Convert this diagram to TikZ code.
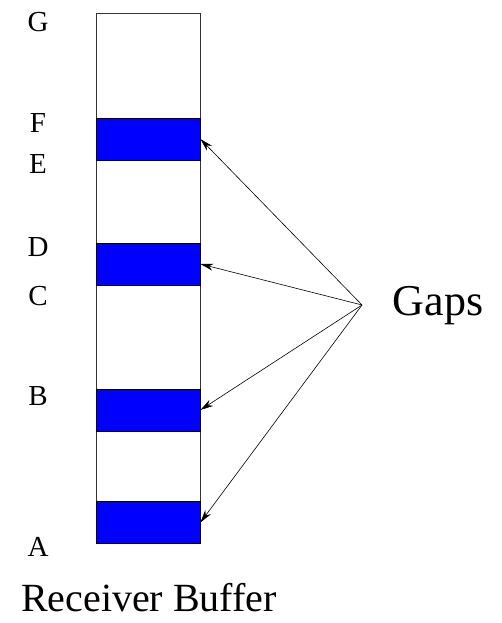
\documentclass[tikz,border=0pt]{standalone}
\usepackage{fontspec}
\setmainfont{Liberation Serif}
\usetikzlibrary{arrows.meta}

\tikzset{
    band/.style={draw=black, fill=blue, minimum width=104pt, minimum height=42pt,
                 inner sep=0pt, line width=0.8pt},
    letter/.style={font=\fontsize{29}{29}\selectfont},
    gaparrow/.style={line width=0.6pt, -{Stealth[length=13pt, width=7pt]}}
}

\begin{document}
\begin{tikzpicture}[x=1pt, y=-1pt]
    \useasboundingbox (0,0) rectangle (501,623);

    % Draw the buffer column
    \node[draw=black!80, line width=1pt, minimum width=104pt, minimum height=529pt,
          inner sep=0pt] (buffer) at (148,278.5) {};

    % Blue bands for the gaps
    \node[band] (gapEF) at (148,139) {};
    \node[band] (gapCD) at (148,264) {};
    \node[band] (gapB)  at (148,410) {};
    \node[band] (gapA)  at (148,522.5) {};

    % Sequence labels on the left
    \node[letter] (labG) at (38,22) {G};
    \node[letter] (labF) at (38,123) {F};
    \node[letter] (labE) at (38,164) {E};
    \node[letter] (labD) at (38,247) {D};
    \node[letter] (labC) at (38,296) {C};
    \node[letter] (labB) at (38,396) {B};
    \node[letter] (labA) at (38,547) {A};

    % Gaps label and arrows
    \node[font=\fontsize{44}{44}\selectfont] (gaps) at (438,306) {Gaps};
    \coordinate (src) at (362,305);
    \draw[gaparrow] (src) -- (gapEF.east);
    \draw[gaparrow] (src) -- (gapCD.east);
    \draw[gaparrow] (src) -- (gapB.east);
    \draw[gaparrow] (src) -- (gapA.east);

    % Caption
    \node[font=\fontsize{40}{40}\selectfont] (caption) at (149,598) {Receiver Buffer};
\end{tikzpicture}
\end{document}
